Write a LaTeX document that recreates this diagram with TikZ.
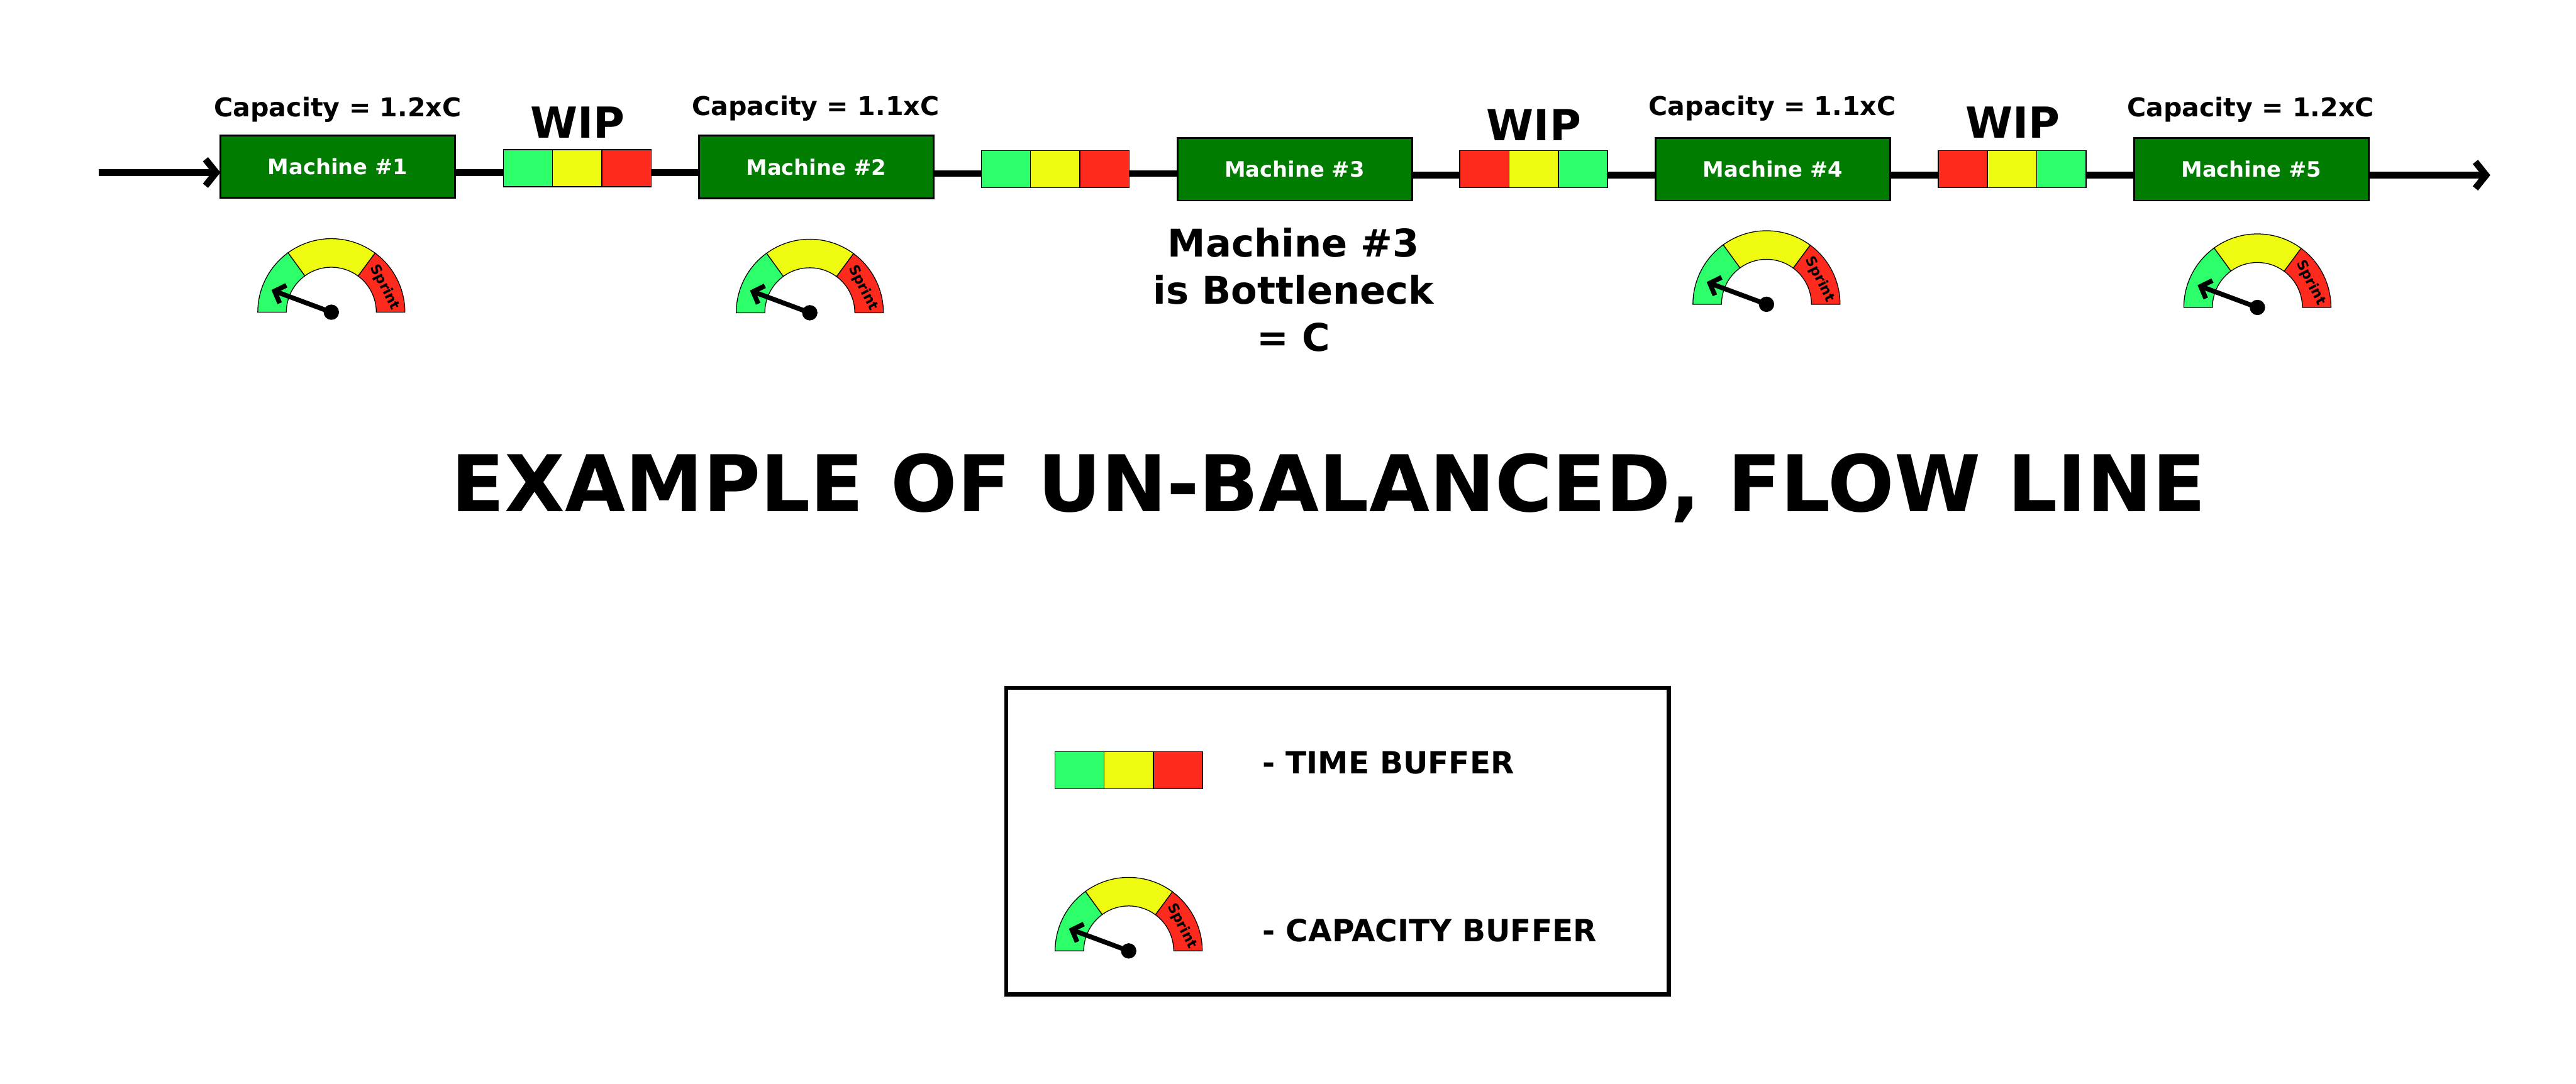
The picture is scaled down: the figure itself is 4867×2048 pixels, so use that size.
\documentclass[tikz,border=0pt]{standalone}
\usepackage{fontspec}
\setmainfont{DejaVu Sans}
\usepackage{tikz}
\usetikzlibrary{positioning,arrows.meta}
\definecolor{machgreen}{HTML}{007C00}
\definecolor{bufgreen}{HTML}{2DFF6B}
\definecolor{bufyellow}{HTML}{EEFB10}
\definecolor{bufred}{HTML}{FF2A1E}

\begin{document}
\begin{tikzpicture}[
  x=0.01cm, y=0.01cm,
  machine/.style={draw=black, fill=machgreen, text=white, line width=0.035cm, outer sep=0pt,
                  minimum width=4.43cm, minimum height=1.18cm, font=\bfseries\fontsize{11.4}{13}\selectfont},
  cell/.style={draw=black, line width=0.018cm, outer sep=0pt, inner sep=0pt,
               minimum width=0.93cm, minimum height=0.70cm},
  caplabel/.style={anchor=base, font=\bfseries\fontsize{13.9}{16}\selectfont},
  wiplabel/.style={anchor=base, font=\bfseries\fontsize{23}{27}\selectfont},
  keylabel/.style={anchor=base west, inner sep=0pt, font=\bfseries\fontsize{16.4}{19}\selectfont},
  flow/.style={line width=0.127cm},
  flowarr/.style={flow, -{Straight Barb[length=0.2cm, width=0.5cm]}},
  seg/.style={draw=black, line width=0.015cm},
  gauge/.pic={
    \draw[seg, fill=bufgreen] (180:139) arc[start angle=180, end angle=126, radius=139]
      -- (126:85) arc[start angle=126, end angle=180, radius=85] -- cycle;
    \draw[seg, fill=bufyellow] (126:139) arc[start angle=126, end angle=53.5, radius=139]
      -- (53.5:85) arc[start angle=53.5, end angle=126, radius=85] -- cycle;
    \draw[seg, fill=bufred] (53.5:139) arc[start angle=53.5, end angle=0, radius=139]
      -- (0:85) arc[start angle=0, end angle=53.5, radius=85] -- cycle;
    \node[rotate=-63, inner sep=0pt, font=\bfseries\fontsize{7.5}{9}\selectfont] at (25:111) {Sprint};
    \fill[black] (0,0) circle[radius=14.5];
    \draw[line width=0.09cm, -{Straight Barb[length=0.17cm, width=0.36cm]}] (0,0) -- (-113,42);
  },
]
\useasboundingbox (0,0) rectangle (4867,-2048);

% machines
\node[machine] (m1) at (638,-315) {Machine \#1};
\node[machine] (m2) at (1542,-315.5) {Machine \#2};
\node[machine] (m3) at (2446,-320) {Machine \#3};
\node[machine] (m4) at (3349.5,-320) {Machine \#4};
\node[machine] (m5) at (4253.5,-320) {Machine \#5};

% buffers, three cells each
\node[cell, fill=bufgreen, anchor=west] (b1a) at (951,-318) {};
\node[cell, fill=bufyellow, right=0pt of b1a] (b1b) {};
\node[cell, fill=bufred, right=0pt of b1b] (b1c) {};
\node[cell, fill=bufgreen, anchor=west] (b2a) at (1854,-319.5) {};
\node[cell, fill=bufyellow, right=0pt of b2a] (b2b) {};
\node[cell, fill=bufred, right=0pt of b2b] (b2c) {};
\node[cell, fill=bufred, anchor=west] (b3a) at (2758,-319.5) {};
\node[cell, fill=bufyellow, right=0pt of b3a] (b3b) {};
\node[cell, fill=bufgreen, right=0pt of b3b] (b3c) {};
\node[cell, fill=bufred, anchor=west] (b4a) at (3662,-319.5) {};
\node[cell, fill=bufyellow, right=0pt of b4a] (b4b) {};
\node[cell, fill=bufgreen, right=0pt of b4b] (b4c) {};

% flow line
\coordinate (inflow) at (187,-326);
\coordinate (midflow) at (0,-328);
\coordinate (outflow) at (4705,-331);
\draw[flowarr] (inflow) -- (m1.west |- inflow);
\draw[flow] (m1.east |- inflow) -- (b1a.west |- inflow);
\draw[flow] (b1c.east |- inflow) -- (m2.west |- inflow);
\draw[flow] (m2.east |- midflow) -- (b2a.west |- midflow);
\draw[flow] (b2c.east |- midflow) -- (m3.west |- midflow);
\draw[flow] (m3.east |- outflow) -- (b3a.west |- outflow);
\draw[flow] (b3c.east |- outflow) -- (m4.west |- outflow);
\draw[flow] (m4.east |- outflow) -- (b4a.west |- outflow);
\draw[flow] (b4c.east |- outflow) -- (m5.west |- outflow);
\draw[flowarr] (m5.east |- outflow) -- (outflow);

% labels above
\node[caplabel] (c1) at (638,-220) {Capacity = 1.2xC};
\node[caplabel] (c2) at (1541,-218) {Capacity = 1.1xC};
\node[caplabel] (c4) at (3348.5,-218) {Capacity = 1.1xC};
\node[caplabel] (c5) at (4252,-220) {Capacity = 1.2xC};
\node[wiplabel] (w1) at (1091,-261) {WIP};
\node[wiplabel] (w3) at (2898,-266) {WIP};
\node[wiplabel] (w4) at (3802.5,-261) {WIP};

% capacity gauges
\pic (g1) at (626,-590) {gauge};
\pic (g2) at (1530,-591) {gauge};
\pic (g4) at (3337.5,-575) {gauge};
\pic (g5) at (4265,-581) {gauge};

\node[align=center, font=\bfseries\fontsize{20.5}{25.3}\selectfont] (neck) at (2444,-548) {Machine \#3\\is Bottleneck\\= C};

\node[anchor=base, font=\bfseries\fontsize{42}{48}\selectfont] (title) at (2510,-967) {EXAMPLE OF UN-BALANCED, FLOW LINE};

% legend
\node[draw=black, line width=0.08cm, minimum width=12.51cm, minimum height=5.79cm, anchor=north west] (legend) at (1897,-1296) {};
\node[cell, fill=bufgreen, anchor=west] (k1) at (1993,-1455.5) {};
\node[cell, fill=bufyellow, right=0pt of k1] (k2) {};
\node[cell, fill=bufred, right=0pt of k2] (k3) {};
\pic (gk) at (2132.5,-1797) {gauge};
\node[keylabel] (t1) at (2385,-1462) {- TIME BUFFER};
\node[keylabel] (t2) at (2385,-1779) {- CAPACITY BUFFER};
\end{tikzpicture}
\end{document}
